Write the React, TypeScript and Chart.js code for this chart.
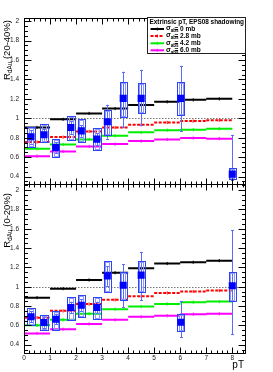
import React, { useEffect, useRef } from 'react';
import { Chart, registerables } from 'chart.js';
Chart.register(...registerables);

const FONT = '"Liberation Sans", Arial, Helvetica, sans-serif';
const W = 273;
const H = 372;

// ---------------- data ----------------
const binEdges = [0, 1, 2, 3, 4, 5, 6, 7, 8];
const sigmaLabels = ['0 mb', '2.8 mb', '4.2 mb', '6.0 mb'];
const legendHeader = 'Extrinsic pT, EPS08 shadowing';
const xTitle = 'pT';

// model curves, 20-40% centrality
const m2040_0 = [0.906, 0.989, 1.05, 1.1, 1.136, 1.17, 1.19, 1.2];
const m2040_28 = [0.755, 0.806, 0.865, 0.905, 0.933, 0.957, 0.971, 0.98];
const m2040_42 = [0.686, 0.73, 0.782, 0.82, 0.855, 0.878, 0.882, 0.892];
const m2040_60 = [0.61, 0.658, 0.71, 0.734, 0.765, 0.782, 0.796, 0.79];

// model curves, 0-20% centrality
const m020_0 = [0.887, 0.98, 1.07, 1.145, 1.19, 1.24, 1.253, 1.27];
const m020_28 = [0.68, 0.75, 0.82, 0.864, 0.9, 0.936, 0.95, 0.96];
const m020_42 = [0.6, 0.657, 0.72, 0.767, 0.795, 0.822, 0.84, 0.846];
const m020_60 = [0.517, 0.56, 0.615, 0.657, 0.688, 0.7, 0.715, 0.72];

// measured points
const dataX = [0.27, 0.77, 1.22, 1.8, 2.2, 2.8, 3.2, 3.81, 4.5, 6.02, 8.0];

const r2040 = [0.81, 0.83, 0.7, 0.905, 0.87, 0.785, 0.965, 1.205, 1.205, 1.205, 0.425];
const r2040StatLo = [0.74, 0.77, 0.645, 0.84, 0.81, 0.725, 0.79, 0.91, 0.93, 0.87, 0.36];
const r2040StatHi = [0.88, 0.89, 0.755, 0.97, 0.93, 0.845, 1.14, 1.48, 1.5, 1.54, 0.83];
const r2040SysLo = [0.7, 0.76, 0.6, 0.78, 0.755, 0.67, 0.83, 1.015, 1.05, 1.03, 0.37];
const r2040SysHi = [0.91, 0.94, 0.79, 1.02, 0.995, 0.9, 1.09, 1.376, 1.36, 1.376, 0.49];

const r020 = [0.69, 0.63, 0.664, 0.784, 0.809, 0.784, 1.112, 1.015, 1.12, 0.633, 1.01];
const r020StatLo = [0.635, 0.575, 0.61, 0.725, 0.75, 0.725, 1.01, 0.79, 0.86, 0.48, 0.51];
const r020StatHi = [0.745, 0.685, 0.72, 0.845, 0.87, 0.845, 1.21, 1.235, 1.36, 0.853, 1.587];
const r020SysLo = [0.605, 0.55, 0.55, 0.66, 0.69, 0.667, 0.95, 0.86, 0.95, 0.545, 0.85];
const r020SysHi = [0.778, 0.71, 0.75, 0.89, 0.915, 0.89, 1.27, 1.155, 1.27, 0.72, 1.155];

// ---------------- styles ----------------
const modelColors = ['#000000', '#ff0000', '#00ee00', '#ff00ff'];
const modelDash = [[], [3, 1.5], [], []];
const pointColor = '#0000ff';
const boxColor = '#2f45f5';
const boxInnerColor = '#8b97ff';
const errColor = '#5a6cff';
const BOX_HALF = 0.14;
const BOX_INNER_HALF = 0.07;

type PanelCfg = {
  centr: string;
  yMin: number;
  yMax: number;
  top: number;
  bottom: number;
  titleEnd: number;
  models: number[][];
  val: number[];
  statLo: number[];
  statHi: number[];
  sysLo: number[];
  sysHi: number[];
  showX: boolean;
  legend: boolean;
};

const panels: PanelCfg[] = [
  {
    centr: '(20-40%)',
    yMin: 0.32,
    yMax: 2.03,
    top: 18.3,
    bottom: 184.3,
    titleEnd: 20,
    models: [m2040_0, m2040_28, m2040_42, m2040_60],
    val: r2040,
    statLo: r2040StatLo,
    statHi: r2040StatHi,
    sysLo: r2040SysLo,
    sysHi: r2040SysHi,
    showX: false,
    legend: true,
  },
  {
    centr: '(0-20%)',
    yMin: 0.317,
    yMax: 2.06,
    top: 184.3,
    bottom: 352.7,
    titleEnd: 193,
    models: [m020_0, m020_28, m020_42, m020_60],
    val: r020,
    statLo: r020StatLo,
    statHi: r020StatHi,
    sysLo: r020SysLo,
    sysHi: r020SysHi,
    showX: true,
    legend: false,
  },
];

function stepData(vals: number[]) {
  const out: { x: number; y: number | null }[] = [];
  vals.forEach((v, i) => {
    const a = binEdges[i];
    const b = binEdges[i + 1];
    out.push({ x: a, y: v }, { x: (a + b) / 2, y: v }, { x: b, y: v }, { x: b, y: null });
  });
  return out;
}

function drawLegend(ctx: CanvasRenderingContext2D) {
  const bx = 147.5, by = 17.5, bw = 98, bh = 36;
  ctx.save();
  ctx.fillStyle = '#ffffff';
  ctx.fillRect(bx, by, bw, bh);
  ctx.strokeStyle = '#222';
  ctx.lineWidth = 1;
  ctx.strokeRect(bx, by, bw, bh);
  ctx.fillStyle = '#000';
  ctx.textBaseline = 'middle';
  ctx.textAlign = 'left';
  ctx.font = `bold 6.4px ${FONT}`;
  ctx.fillText(legendHeader, 149.5, 22);
  const rows = [29, 36, 43.3, 50.3];
  rows.forEach((ry, k) => {
    ctx.strokeStyle = modelColors[k];
    ctx.lineWidth = 2;
    ctx.setLineDash(modelDash[k]);
    ctx.beginPath();
    ctx.moveTo(150.5, ry);
    ctx.lineTo(164, ry);
    ctx.stroke();
    ctx.setLineDash([]);
    ctx.lineWidth = 1;
    ctx.beginPath();
    ctx.moveTo(157.3, ry - 1.5);
    ctx.lineTo(157.3, ry + 1.5);
    ctx.stroke();
    ctx.fillStyle = '#000';
    ctx.font = `bold 7px ${FONT}`;
    ctx.fillText('σ', 166, ry - 0.5);
    const ws = ctx.measureText('σ').width;
    ctx.font = `bold 4.5px ${FONT}`;
    ctx.fillText('abs', 166 + ws, ry + 2);
    ctx.font = `bold 6.5px ${FONT}`;
    ctx.fillText('= ' + sigmaLabels[k], 174.5, ry);
  });
  ctx.restore();
}

function buildConfig(p: PanelCfg): any {
  const dataIndex = p.models.length;
  const datasets: any[] = p.models.map((vals, k) => ({
    type: 'line',
    label: sigmaLabels[k],
    data: stepData(vals),
    borderColor: modelColors[k],
    backgroundColor: modelColors[k],
    borderWidth: 2,
    borderDash: modelDash[k],
    pointStyle: 'line',
    pointRotation: 90,
    pointRadius: (c: any) => (c.dataIndex % 4 === 1 ? 1.6 : 0),
    pointBorderWidth: 1,
    pointHoverRadius: 0,
    spanGaps: false,
    showLine: true,
    order: 2 + k,
  }));
  datasets.push({
    type: 'scatter',
    label: 'data',
    data: dataX.map((x, i) => ({ x, y: p.val[i] })),
    pointStyle: 'rect',
    pointRadius: 5,
    pointHoverRadius: 5,
    backgroundColor: pointColor,
    borderWidth: 0,
    order: 0,
  });

  const plugin = {
    id: 'rootStyle' + p.centr,
    beforeDatasetsDraw(chart: any) {
      const { ctx, chartArea } = chart;
      const ys = chart.scales.y;
      const y1 = Math.round(ys.getPixelForValue(1)) + 0.5;
      ctx.save();
      ctx.strokeStyle = '#777';
      ctx.lineWidth = 1;
      ctx.setLineDash([1.5, 1.5]);
      ctx.beginPath();
      ctx.moveTo(chartArea.left, y1);
      ctx.lineTo(chartArea.right, y1);
      ctx.stroke();
      ctx.restore();
    },
    beforeDatasetDraw(chart: any, args: any) {
      if (args.index !== dataIndex) return;
      const { ctx, chartArea } = chart;
      const xs = chart.scales.x;
      const ys = chart.scales.y;
      ctx.save();
      ctx.beginPath();
      ctx.rect(chartArea.left, chartArea.top, chartArea.right - chartArea.left, chartArea.bottom - chartArea.top);
      ctx.clip();
      dataX.forEach((x, i) => {
        const xc = Math.round(xs.getPixelForValue(x)) + 0.5;
        const xa = Math.round(xs.getPixelForValue(x - BOX_HALF)) + 0.5;
        const xb = Math.round(xs.getPixelForValue(x + BOX_HALF)) + 0.5;
        const xia = Math.round(xs.getPixelForValue(x - BOX_INNER_HALF)) + 0.5;
        const xib = Math.round(xs.getPixelForValue(x + BOX_INNER_HALF)) + 0.5;
        const ya = Math.round(ys.getPixelForValue(p.sysHi[i])) + 0.5;
        const yb = Math.round(ys.getPixelForValue(p.sysLo[i])) + 0.5;
        const ea = ys.getPixelForValue(p.statHi[i]);
        const eb = ys.getPixelForValue(p.statLo[i]);
        ctx.strokeStyle = errColor;
        ctx.lineWidth = 1;
        ctx.beginPath();
        ctx.moveTo(xc, ea);
        ctx.lineTo(xc, eb);
        ctx.moveTo(xc - 1.5, Math.round(ea) + 0.5);
        ctx.lineTo(xc + 1.5, Math.round(ea) + 0.5);
        ctx.moveTo(xc - 1.5, Math.round(eb) + 0.5);
        ctx.lineTo(xc + 1.5, Math.round(eb) + 0.5);
        ctx.stroke();
        ctx.strokeStyle = boxInnerColor;
        ctx.strokeRect(xia, ya + 1, xib - xia, yb - ya - 2);
        ctx.strokeStyle = boxColor;
        ctx.strokeRect(xa, ya, xb - xa, yb - ya);
      });
      ctx.restore();
    },
    afterDraw(chart: any) {
      const { ctx, chartArea } = chart;
      const xs = chart.scales.x;
      const ys = chart.scales.y;
      const L = Math.round(chartArea.left) + 0.5;
      const R = Math.round(chartArea.right) + 0.5;
      const T = Math.round(chartArea.top) + 0.5;
      const B = Math.round(chartArea.bottom) + 0.5;
      ctx.save();
      ctx.strokeStyle = '#000';
      ctx.lineWidth = 1;
      ctx.beginPath();
      const k0 = Math.ceil(p.yMin / 0.05 - 1e-9);
      const k1 = Math.floor(p.yMax / 0.05 + 1e-9);
      for (let k = k0; k <= k1; k++) {
        const v = k * 0.05;
        const py = Math.round(ys.getPixelForValue(v)) + 0.5;
        const len = k % 4 === 0 ? 7 : 3.5;
        ctx.moveTo(L, py);
        ctx.lineTo(L + len, py);
        ctx.moveTo(R, py);
        ctx.lineTo(R - len, py);
      }
      for (let k = 0; k <= 42; k++) {
        const v = k * 0.2;
        const px = Math.round(xs.getPixelForValue(v)) + 0.5;
        const len = k % 5 === 0 ? 6 : 3;
        ctx.moveTo(px, B);
        ctx.lineTo(px, B - len);
        ctx.moveTo(px, T);
        ctx.lineTo(px, T + len);
      }
      ctx.stroke();
      ctx.strokeRect(L, T, R - L, B - T);

      ctx.fillStyle = '#000';
      ctx.textBaseline = 'middle';
      ctx.textAlign = 'left';
      const mainFont = `9.5px ${FONT}`;
      const subFont = `6.4px ${FONT}`;
      ctx.font = mainFont;
      const wR = ctx.measureText('R').width;
      const rest = ' ' + p.centr;
      const wRest = ctx.measureText(rest).width;
      ctx.font = subFont;
      const wSub = ctx.measureText('dAu').width;
      const total = wR + wSub + wRest;
      ctx.save();
      ctx.translate(7.5, p.titleEnd);
      ctx.rotate(-Math.PI / 2);
      ctx.font = mainFont;
      ctx.fillText('R', -total, 0);
      ctx.font = subFont;
      ctx.fillText('dAu', -total + wR, 2.8);
      ctx.font = mainFont;
      ctx.fillText(rest, -total + wR + wSub, 0);
      ctx.restore();

      if (p.showX) {
        ctx.font = `10px ${FONT}`;
        ctx.textAlign = 'right';
        ctx.textBaseline = 'middle';
        ctx.fillText(xTitle, 244, 365.5);
      }
      ctx.restore();
      if (p.legend) drawLegend(ctx);
    },
  };

  return {
    type: 'scatter',
    data: { datasets },
    options: {
      responsive: false,
      animation: false,
      events: [],
      layout: {
        padding: { left: 0, right: W - 245.3, top: p.top, bottom: p.showX ? 0 : H - p.bottom },
      },
      plugins: { legend: { display: false }, tooltip: { enabled: false } },
      scales: {
        x: {
          type: 'linear',
          min: 0,
          max: 8.5,
          display: p.showX,
          grid: { display: false, drawTicks: false },
          border: { display: false },
          ticks: {
            stepSize: 1,
            includeBounds: false,
            padding: 1.5,
            maxRotation: 0,
            autoSkip: false,
            color: '#222',
            font: { family: FONT, size: 6.5 },
            callback: (v: number) => String(v),
          },
          afterFit: (s: any) => {
            s.height = p.showX ? H - p.bottom : 0;
          },
        },
        y: {
          type: 'linear',
          min: p.yMin,
          max: p.yMax,
          grid: { display: false, drawTicks: false },
          border: { display: false },
          ticks: {
            stepSize: 0.2,
            includeBounds: false,
            padding: 5,
            color: '#222',
            font: { family: FONT, size: 6.5 },
            callback: (v: number) => String(Math.round(v * 10) / 10),
          },
          afterFit: (s: any) => {
            s.width = 24;
          },
        },
      },
    },
    plugins: [plugin],
  };
}

function Panel({ panel }: { panel: PanelCfg }) {
  const ref = useRef<HTMLCanvasElement>(null);
  useEffect(() => {
    const chart = new Chart(ref.current as HTMLCanvasElement, buildConfig(panel));
    return () => chart.destroy();
  }, [panel]);
  return (
    <canvas
      ref={ref}
      width={W}
      height={H}
      style={{ position: 'absolute', left: 0, top: 0, width: W, height: H }}
    />
  );
}

export default function App() {
  return (
    <div style={{ position: 'fixed', left: 0, top: 0, width: W, height: H, background: '#fff' }}>
      {panels.map((p, i) => (
        <Panel key={i} panel={p} />
      ))}
    </div>
  );
}
